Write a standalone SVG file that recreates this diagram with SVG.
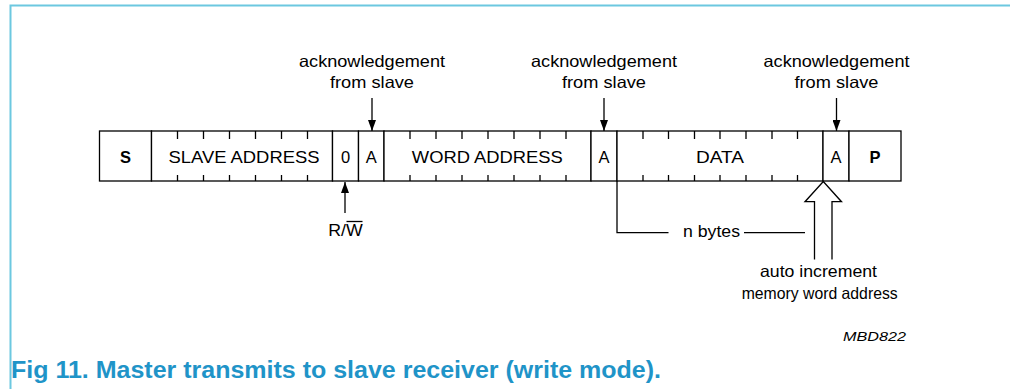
<svg xmlns="http://www.w3.org/2000/svg" width="1010" height="389" viewBox="0 0 1010 389">
<style>
.bx{fill:#fff;stroke:#000;stroke-width:1.3}
.tk{stroke:#000;stroke-width:1.3}
.ln{stroke:#000;stroke-width:1.3;fill:none}
.t{font-family:"Liberation Sans",Arial,sans-serif;font-size:16.5px;fill:#000}
.c{text-anchor:middle}
.b{font-weight:bold}
.frame{stroke:#6cc8e0;stroke-width:2;fill:none}
.cap{font-family:"Liberation Sans",Arial,sans-serif;font-size:23px;font-weight:bold;fill:#1f94c8}
.id{font-family:"Liberation Sans",Arial,sans-serif;font-size:12.5px;font-style:italic;fill:#000}
</style>
<defs>
<marker id="ad" viewBox="0 0 11 8" markerWidth="11" markerHeight="8" refX="11" refY="4" markerUnits="userSpaceOnUse" orient="auto">
<path d="M0,0 L11,4 L0,8 z" fill="#000"/>
</marker>
</defs>
<path class="frame" d="M10.5,389 V5.5 H1010"/>

<g id="field-start">
<rect class="bx" x="99.5" y="131" width="52" height="50"/>
<text class="t c b" x="125.5" y="162.7">S</text>
</g>
<g id="field-slave-address">
<rect class="bx" x="151.5" y="131" width="181" height="50"/>
<path class="tk" d="M177.5,131v8M203.5,131v8M229.5,131v8M255.5,131v8M281.5,131v8M307.5,131v8M177.5,175v6M203.5,175v6M229.5,175v6M255.5,175v6M281.5,175v6M307.5,175v6"/>
<text class="t c" x="244" y="162.7" textLength="151" lengthAdjust="spacingAndGlyphs">SLAVE ADDRESS</text>
</g>
<g id="field-rw">
<rect class="bx" x="332.5" y="131" width="26" height="50"/>
<text class="t c" x="345.5" y="162.7">0</text>
</g>
<g id="field-ack1">
<rect class="bx" x="358.5" y="131" width="25.5" height="50"/>
<text class="t c" x="371.3" y="162.7">A</text>
</g>
<g id="field-word-address">
<rect class="bx" x="384" y="131" width="207" height="50"/>
<path class="tk" d="M410,131v8M436,131v8M462,131v8M488,131v8M514,131v8M540,131v8M566,131v8M410,175v6M436,175v6M462,175v6M488,175v6M514,175v6M540,175v6M566,175v6"/>
<text class="t c" x="487.3" y="162.7" textLength="151" lengthAdjust="spacingAndGlyphs">WORD ADDRESS</text>
</g>
<g id="field-ack2">
<rect class="bx" x="591" y="131" width="26" height="50"/>
<text class="t c" x="604" y="162.7">A</text>
</g>
<g id="field-data">
<rect class="bx" x="617" y="131" width="206" height="50"/>
<path class="tk" d="M643,131v8M668.5,131v8M694.5,131v8M720,131v8M746,131v8M772,131v8M797.5,131v8M643,175v6M668.5,175v6M694.5,175v6M720,175v6M746,175v6M772,175v6M797.5,175v6"/>
<text class="t c" x="720" y="162.7" textLength="48" lengthAdjust="spacingAndGlyphs">DATA</text>
</g>
<g id="field-ack3">
<rect class="bx" x="823" y="131" width="26" height="50"/>
<text class="t c" x="836" y="162.7">A</text>
</g>
<g id="field-stop">
<rect class="bx" x="849" y="131" width="52" height="50"/>
<text class="t c b" x="875" y="162.7">P</text>
</g>

<g id="label-ack1">
<text class="t c" x="372" y="67" textLength="146" lengthAdjust="spacingAndGlyphs">acknowledgement</text>
<text class="t c" x="372" y="88" textLength="84" lengthAdjust="spacingAndGlyphs">from slave</text>
</g>
<g id="label-ack2">
<text class="t c" x="604" y="67" textLength="146" lengthAdjust="spacingAndGlyphs">acknowledgement</text>
<text class="t c" x="604" y="88" textLength="84" lengthAdjust="spacingAndGlyphs">from slave</text>
</g>
<g id="label-ack3">
<text class="t c" x="836.5" y="67" textLength="146" lengthAdjust="spacingAndGlyphs">acknowledgement</text>
<text class="t c" x="836.5" y="88" textLength="84" lengthAdjust="spacingAndGlyphs">from slave</text>
</g>
<g id="label-rw">
<text class="t c" x="345.5" y="235.7" textLength="34.5" lengthAdjust="spacingAndGlyphs">R/W</text>
<line class="ln" x1="346.5" y1="221.5" x2="362.5" y2="221.5" stroke-width="1.2"/>
</g>
<g id="label-nbytes">
<text class="t c" x="711.5" y="237" textLength="57" lengthAdjust="spacingAndGlyphs">n bytes</text>
</g>
<g id="label-auto-increment">
<text class="t c" x="818.5" y="277" textLength="117" lengthAdjust="spacingAndGlyphs">auto increment</text>
<text class="t c" x="819.7" y="298.5" textLength="156" lengthAdjust="spacingAndGlyphs">memory word address</text>
</g>

<g id="connectors">
<line class="ln" x1="372" y1="98" x2="372" y2="131" marker-end="url(#ad)"/>
<line class="ln" x1="604" y1="98" x2="604" y2="131" marker-end="url(#ad)"/>
<line class="ln" x1="836.5" y1="98" x2="836.5" y2="131" marker-end="url(#ad)"/>
<line class="ln" x1="345" y1="213" x2="345" y2="182" marker-end="url(#ad)"/>
<path class="ln" d="M617,181 V232.7 H668.5"/>
<line class="ln" x1="744" y1="232.7" x2="805" y2="232.7"/>
<path class="ln" d="M814.5,259.5 V201.7 H805 L823.3,181.5 L841.5,201.7 H832 V259.5"/>
</g>

<text class="id" x="874.5" y="341" text-anchor="middle" textLength="63" lengthAdjust="spacingAndGlyphs">MBD822</text>
<text class="cap" x="11" y="378" textLength="650" lengthAdjust="spacingAndGlyphs">Fig 11.  Master transmits to slave receiver (write mode).</text>
</svg>
